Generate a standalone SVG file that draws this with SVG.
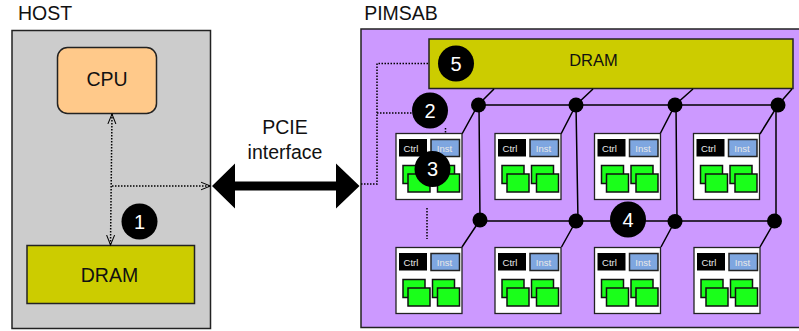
<svg xmlns="http://www.w3.org/2000/svg" width="799" height="331" viewBox="0 0 799 331">
<style>
text{font-family:"Liberation Sans",Arial,sans-serif;text-anchor:middle;fill:#111}
.box{stroke:#222;stroke-width:1.5}
.bus{fill:none;stroke:#000;stroke-width:1.5}
.dot{fill:none;stroke:#000;stroke-width:1.5;stroke-dasharray:1.5 1.5}
.j{fill:#000}
.tile{fill:#fff;stroke:#222;stroke-width:1.3}
.ctrl{fill:#000}
.inst{fill:#7ea6e0;stroke:#222;stroke-width:1.5}
.pe{fill:#1aff1a;stroke:#111;stroke-width:1.5}
.tc{font-size:9.500px;fill:#e8e8e8}
.badge{fill:#000}
.bt{font-size:20px;fill:#fff}
</style>
<defs>
<marker id="open" markerWidth="12" markerHeight="12" refX="10" refY="5" orient="auto-start-reverse" markerUnits="userSpaceOnUse"><path d="M0 1 L10 5 L0 9" fill="none" stroke="#000" stroke-width="1"/></marker>
<g id="t">
<rect class="tile" x="0" y="0" width="66" height="66"/>
<rect class="ctrl" x="3" y="5.500" width="28" height="17.500"/>
<text class="tc" x="15" y="18">Ctrl</text>
<rect class="inst" x="35" y="6" width="28.500" height="17"/>
<text class="tc" x="48.500" y="18">Inst</text>
<rect class="pe" x="7" y="32" width="22" height="18"/>
<rect class="pe" x="12" y="40.500" width="22" height="18"/>
<rect class="pe" x="36.500" y="32" width="22" height="18"/>
<rect class="pe" x="41.500" y="40.500" width="22" height="18"/>
</g>
</defs>
<g id="host">
<rect class="box" x="12" y="30.500" width="198.500" height="298" fill="#ccc"/>
<text x="45" y="20" font-size="19.500">HOST</text>
</g>
<g id="cpu">
<rect class="box" x="57.500" y="47.500" width="99" height="66" rx="10" fill="#ffc98a"/>
<text x="107" y="86" font-size="19.500">CPU</text>
</g>
<g id="host-dram">
<rect class="box" x="27" y="245.500" width="167.500" height="58" fill="#cccc00"/>
<text x="109.500" y="281.500" font-size="19.500">DRAM</text>
</g>
<g id="pimsab">
<rect class="box" x="361" y="29" width="445" height="298.500" fill="#cc99ff"/>
<text x="401" y="20" font-size="19.500">PIMSAB</text>
</g>
<g id="pimsab-dram">
<rect class="box" x="429" y="39" width="364" height="49.500" fill="#cccc00"/>
<text x="593.500" y="66" font-size="16.500">DRAM</text>
</g>
<g id="connectors">
<path class="bus" d="M478 105H778M480 221H775M479 105L480 221M576 105L578 221M676 105L677 221M776 105V221"/>
<path class="bus" d="M462 134L478 105L494 89M561 134L576 105L593 89M660 134L675 105L693 89M760 134L778 105L792 89"/>
<path class="bus" d="M462 247L480 220M561.500 247L576 221M661 247L675 221M760 247L775 221"/>
<path class="dot" d="M112 114L110.500 245" marker-start="url(#open)" marker-end="url(#open)"/>
<path class="dot" d="M112 186H210.500" marker-end="url(#open)"/>
<path class="dot" d="M361 184H377V63.500H429"/>
<path class="dot" d="M377 113H412M445.500 128V134"/>
<path class="dot" d="M427 208V239"/>
<path d="M212 186L235 163.500V181.500H336V163.500L359.500 186L336 208.500V190.500H235V208.500Z" fill="#000"/>
</g>
<g id="pcie-label">
<text x="285" y="134" font-size="19.500">PCIE</text>
<text x="285" y="159" font-size="19.500">interface</text>
</g>
<g id="junctions">
<circle class="j" cx="478.500" cy="105" r="7.500"/><circle class="j" cx="576" cy="105" r="7.500"/><circle class="j" cx="675" cy="105" r="7.500"/><circle class="j" cx="778" cy="105" r="7.500"/>
<circle class="j" cx="480" cy="220" r="7.500"/><circle class="j" cx="576" cy="221" r="7.500"/><circle class="j" cx="675" cy="221.500" r="7.500"/><circle class="j" cx="774.500" cy="221" r="7.500"/>
</g>
<g id="tiles">
<use href="#t" x="396" y="133.500"/><use href="#t" x="495" y="133.500"/><use href="#t" x="594.500" y="133.500"/><use href="#t" x="693.500" y="133.500"/>
<use href="#t" x="396" y="247.500"/><use href="#t" x="495" y="247.500"/><use href="#t" x="594.500" y="247.500"/><use href="#t" x="694" y="247.500"/>
</g>
<g id="badge-1"><circle class="badge" cx="139.500" cy="221.500" r="18"/><text class="bt" x="139.500" y="228.500">1</text></g>
<g id="badge-2"><circle class="badge" cx="430" cy="110.500" r="18"/><text class="bt" x="430" y="117.500">2</text></g>
<g id="badge-3"><circle class="badge" cx="432.500" cy="169" r="18"/><text class="bt" x="432.500" y="176">3</text></g>
<g id="badge-4"><circle class="badge" cx="628" cy="219.500" r="18"/><text class="bt" x="628" y="226.500">4</text></g>
<g id="badge-5"><circle class="badge" cx="456" cy="63.500" r="18"/><text class="bt" x="456" y="70.500">5</text></g>
</svg>
